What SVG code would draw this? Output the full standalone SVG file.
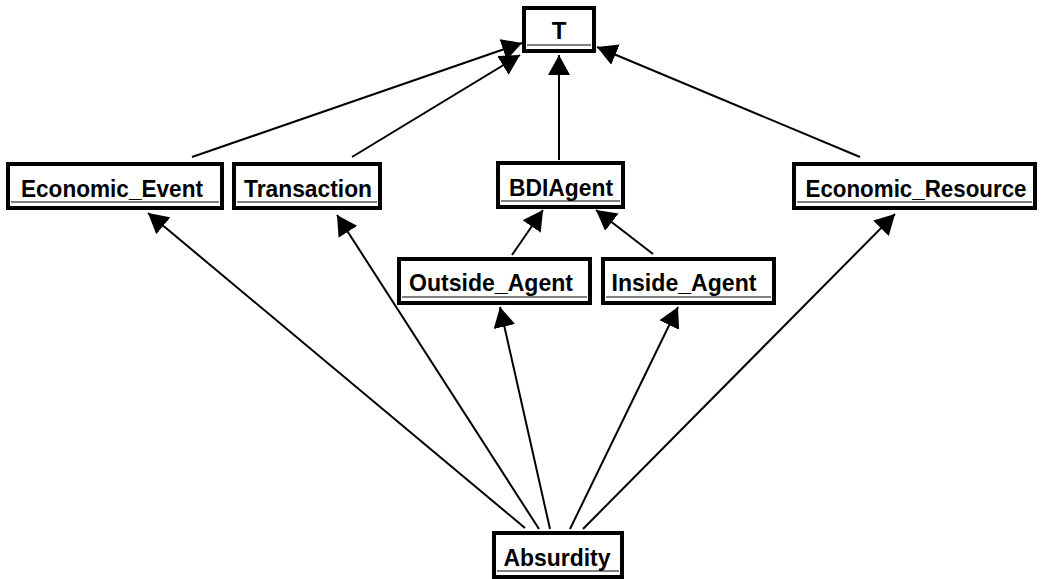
<svg xmlns="http://www.w3.org/2000/svg" width="1041" height="579" viewBox="0 0 1041 579">
<style>
.box{fill:#fff;stroke:#000;stroke-width:4}
.ul{stroke:#000;stroke-width:1.2}
.lbl{font-family:"Liberation Sans",Arial,sans-serif;font-weight:bold;font-size:24px;fill:#000;text-anchor:middle}
.edge{stroke:#000;stroke-width:2;fill:none;marker-end:url(#ah)}
</style>
<defs>
<marker id="ah" markerUnits="userSpaceOnUse" viewBox="0 0 20 22" refX="20" refY="11" markerWidth="20" markerHeight="22" orient="auto">
<path d="M0,0 L20,11 L0,22 z" fill="#000"/>
</marker>
</defs>
<g id="connectors">
<line class="edge" x1="192" y1="157" x2="522" y2="43"/>
<line class="edge" x1="352" y1="157" x2="520" y2="55"/>
<line class="edge" x1="559" y1="160" x2="559" y2="55"/>
<line class="edge" x1="860" y1="157" x2="597" y2="47"/>
<line class="edge" x1="512" y1="255" x2="543" y2="210"/>
<line class="edge" x1="653" y1="254" x2="596" y2="210"/>
<line class="edge" x1="525" y1="528" x2="148" y2="213"/>
<line class="edge" x1="539" y1="529" x2="337" y2="215"/>
<line class="edge" x1="550" y1="529" x2="500" y2="307"/>
<line class="edge" x1="570" y1="529" x2="678" y2="307"/>
<line class="edge" x1="583" y1="529" x2="895" y2="214"/>
</g>
<g id="node-T">
<rect class="box" x="524" y="8" width="70" height="43"/>
<line class="ul" x1="527" y1="45" x2="591" y2="45"/>
<text class="lbl" x="559" y="39">T</text>
</g>
<g id="node-Economic_Event">
<rect class="box" x="8" y="164" width="214" height="44"/>
<line class="ul" x1="11" y1="202" x2="219" y2="202"/>
<text class="lbl" x="112" y="197" textLength="182" lengthAdjust="spacingAndGlyphs">Economic_Event</text>
</g>
<g id="node-Transaction">
<rect class="box" x="234" y="164" width="146" height="44"/>
<line class="ul" x1="237" y1="202" x2="377" y2="202"/>
<text class="lbl" x="308" y="197" textLength="128" lengthAdjust="spacingAndGlyphs">Transaction</text>
</g>
<g id="node-BDIAgent">
<rect class="box" x="498" y="163" width="125" height="44"/>
<line class="ul" x1="501" y1="201" x2="620" y2="201"/>
<text class="lbl" x="561" y="196" textLength="104" lengthAdjust="spacingAndGlyphs">BDIAgent</text>
</g>
<g id="node-Economic_Resource">
<rect class="box" x="794" y="164" width="241" height="44"/>
<line class="ul" x1="797" y1="202" x2="1032" y2="202"/>
<text class="lbl" x="916" y="197" textLength="221" lengthAdjust="spacingAndGlyphs">Economic_Resource</text>
</g>
<g id="node-Outside_Agent">
<rect class="box" x="399" y="259" width="191" height="44"/>
<line class="ul" x1="402" y1="297" x2="587" y2="297"/>
<text class="lbl" x="491" y="291" textLength="164" lengthAdjust="spacingAndGlyphs">Outside_Agent</text>
</g>
<g id="node-Inside_Agent">
<rect class="box" x="603" y="259" width="171" height="44"/>
<line class="ul" x1="606" y1="297" x2="771" y2="297"/>
<text class="lbl" x="684" y="291" textLength="145" lengthAdjust="spacingAndGlyphs">Inside_Agent</text>
</g>
<g id="node-Absurdity">
<rect class="box" x="494" y="533" width="128" height="44"/>
<line class="ul" x1="497" y1="571" x2="619" y2="571"/>
<text class="lbl" x="557" y="566" textLength="107" lengthAdjust="spacingAndGlyphs">Absurdity</text>
</g>
</svg>
